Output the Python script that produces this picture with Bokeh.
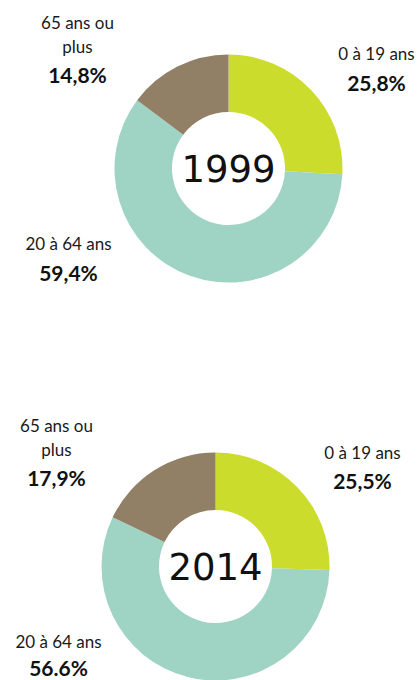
import math
from bokeh.plotting import figure
from bokeh.models import Range1d, ColumnDataSource
from bokeh.core.properties import value
from bokeh.embed import file_html
from bokeh.resources import INLINE

categories = ["0 à 19 ans", "20 à 64 ans", "65 ans ou plus"]
years = ["1999", "2014"]
shares_1999 = [25.8, 59.4, 14.8]
shares_2014 = [25.5, 56.6, 17.9]
pct_labels_1999 = ["25,8%", "59,4%", "14,8%"]
pct_labels_2014 = ["25,5%", "56.6%", "17,9%"]
colors = ["#CCDC2C", "#9FD3C4", "#917F66"]

W, H = 419, 680
PAGE_H = 680

def py(y):  # page pixel y -> data y
    return PAGE_H - y

p = figure(width=W, height=H, output_backend="svg", toolbar_location=None,
           x_range=Range1d(0, W), y_range=Range1d(PAGE_H - H, PAGE_H),
           min_border=0)
p.axis.visible = False
p.grid.visible = False
p.outline_line_color = None
p.background_fill_color = "white"

FONT = "Lato"

def donut(cx, cy, shares, year, lbl_pos, pct_labels):
    total = sum(shares)
    starts, ends = [], []
    a = math.pi / 2
    for s in shares:
        starts.append(a)
        a = a - 2 * math.pi * s / total
        ends.append(a)
    src = ColumnDataSource(dict(start=starts, end=ends, color=colors,
                                cat=categories, share=shares))
    p.annular_wedge(x=cx, y=py(cy), inner_radius=56.5, outer_radius=114,
                    start_angle="start", end_angle="end", direction="clock",
                    fill_color="color", line_color=None, source=src)
    p.text(x=[cx], y=[py(cy)], text=[year], text_font=value("DejaVu Sans"),
           text_font_size="37px", text_align="center", text_baseline="middle",
           text_color="#111111")
    for i, (lines, x, ys, ypct) in enumerate(lbl_pos):
        for line, y in zip(lines, ys):
            p.text(x=[x], y=[py(y)], text=[line], text_font=value(FONT),
                   text_font_size="17px", text_align="center",
                   text_baseline="middle", text_color="#1a1a1a")
        p.text(x=[x], y=[py(ypct)], text=[pct_labels[i]], text_font=value(FONT),
               text_font_size="21px", text_font_style="bold", text_align="center",
               text_baseline="middle", text_color="#111111")

donut(228, 168, shares_1999, years[0], [
    (["0 à 19 ans"], 376, [53], 82),
    (["20 à 64 ans"], 68, [243], 272),
    (["65 ans ou", "plus"], 77, [22, 46], 74),
], pct_labels_1999)

donut(215, 566, shares_2014, years[1], [
    (["0 à 19 ans"], 362, [452], 480),
    (["20 à 64 ans"], 58, [641], 667),
    (["65 ans ou", "plus"], 56, [425, 449], 477),
], pct_labels_2014)

open("out.html", "w").write(file_html(p, INLINE))
